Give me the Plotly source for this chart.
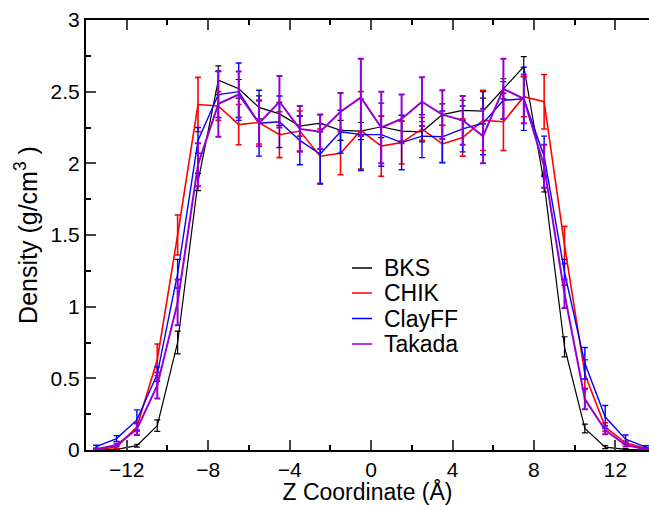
import plotly.graph_objects as go

z = [-13.5, -12.5, -11.5, -10.5, -9.5, -8.5, -7.5, -6.5, -5.5, -4.5, -3.5, -2.5, -1.5, -0.5,
     0.5, 1.5, 2.5, 3.5, 4.5, 5.5, 6.5, 7.5, 8.5, 9.5, 10.5, 11.5, 12.5, 13.5]

bks = [0.0, 0.005, 0.03, 0.17, 0.75, 1.87, 2.58, 2.52, 2.39, 2.345, 2.26, 2.28, 2.23, 2.225,
       2.255, 2.225, 2.22, 2.34, 2.37, 2.365, 2.52, 2.675, 1.86, 0.72, 0.15, 0.02, 0.005, 0.0]
bks_err = [0.0, 0.005, 0.01, 0.04, 0.08, 0.06, 0.1, 0.065, 0.08, 0.08, 0.07, 0.06, 0.07, 0.06,
           0.075, 0.07, 0.07, 0.075, 0.07, 0.09, 0.07, 0.07, 0.06, 0.07, 0.03, 0.01, 0.005, 0.0]

chik = [0.003, 0.02, 0.16, 0.63, 1.50, 2.41, 2.40, 2.27, 2.285, 2.20, 2.225, 2.05, 2.07, 2.23,
        2.12, 2.145, 2.24, 2.135, 2.18, 2.30, 2.29, 2.465, 2.43, 1.43, 0.53, 0.16, 0.05, 0.01]
chik_err = [0.005, 0.01, 0.03, 0.11, 0.14, 0.19, 0.1, 0.14, 0.15, 0.16, 0.14, 0.19, 0.15, 0.27,
            0.21, 0.15, 0.08, 0.13, 0.13, 0.21, 0.2, 0.14, 0.19, 0.13, 0.1, 0.03, 0.01, 0.005]

clayff = [0.023, 0.08, 0.21, 0.53, 1.23, 2.16, 2.48, 2.50, 2.28, 2.29, 2.16, 2.065, 2.22, 2.20,
          2.20, 2.145, 2.19, 2.185, 2.24, 2.28, 2.44, 2.45, 2.05, 1.24, 0.605, 0.23, 0.075, 0.02]
clayff_err = [0.01, 0.02, 0.07, 0.05, 0.1, 0.09, 0.16, 0.2, 0.23, 0.18, 0.17, 0.21, 0.15, 0.25,
              0.22, 0.19, 0.15, 0.18, 0.16, 0.22, 0.13, 0.22, 0.14, 0.09, 0.11, 0.08, 0.03, 0.01]

takada = [0.005, 0.035, 0.145, 0.45, 1.03, 1.99, 2.415, 2.48, 2.28, 2.43, 2.24, 2.22, 2.36, 2.46,
          2.25, 2.31, 2.43, 2.34, 2.30, 2.19, 2.52, 2.45, 1.98, 1.09, 0.355, 0.14, 0.035, 0.005]
takada_err = [0.005, 0.01, 0.04, 0.09, 0.16, 0.15, 0.23, 0.16, 0.16, 0.18, 0.16, 0.12, 0.13, 0.27,
              0.25, 0.17, 0.17, 0.17, 0.17, 0.19, 0.21, 0.17, 0.15, 0.1, 0.07, 0.03, 0.01, 0.005]

names = ["BKS", "CHIK", "ClayFF", "Takada"]
colors = ["#000000", "#ff0000", "#0000ff", "#9400d3"]
widths = [1.2, 1.6, 1.4, 2.0]
values = [bks, chik, clayff, takada]
errors = [bks_err, chik_err, clayff_err, takada_err]

xticks = [-12, -8, -4, 0, 4, 8, 12]
yticks = [0, 0.5, 1, 1.5, 2, 2.5, 3]
ytick_text = ["0", "0.5", "1", "1.5", "2", "2.5", "3"]

FONT = "Liberation Sans, Arial, sans-serif"

fig = go.Figure()
for name, vals, errs, color, lw in zip(names, values, errors, colors, widths):
    fig.add_trace(go.Scatter(
        x=z, y=vals, name=name, mode="lines", showlegend=False,
        line=dict(color=color, width=lw),
        error_y=dict(type="data", array=errs, visible=True, color=color,
                     thickness=lw, width=3),
    ))

# legend drawn in paper coordinates (line sample + label per series)
leg_rows_px = [268, 293, 318.5, 344]
shapes = []
annotations = []
for name, color, lw, py in zip(names, colors, widths, leg_rows_px):
    yp = (450 - py) / 430
    shapes.append(dict(type="line", xref="paper", yref="paper",
                       x0=(352 - 86) / 563, x1=(372 - 86) / 563, y0=yp, y1=yp,
                       line=dict(color=color, width=1.5)))
    annotations.append(dict(text=name, xref="paper", yref="paper",
                            x=(382 - 86) / 563, y=yp, xanchor="left", yanchor="middle",
                            showarrow=False, font=dict(size=23, family=FONT, color="black")))

fig.update_layout(
    width=649, height=505,
    margin=dict(l=86, r=0, t=20, b=55),
    paper_bgcolor="white", plot_bgcolor="white",
    font=dict(family=FONT, color="black", size=21),
    showlegend=False,
    shapes=shapes,
    annotations=annotations,
    xaxis=dict(
        range=[-14, 13.65], tickvals=xticks, ticks="inside", ticklen=10,
        tickwidth=1.5, showline=True, linewidth=2, linecolor="black",
        mirror="ticks", showgrid=False, zeroline=False,
        minor=dict(tickvals=[-14, -10, -6, -2, 2, 6, 10], ticks="inside",
                   ticklen=5, tickwidth=1.5, tickcolor="black"),
        title=dict(text="Z Coordinate (Å)", font=dict(size=23), standoff=5),
        tickfont=dict(size=21),
    ),
    yaxis=dict(
        range=[0, 3], tickvals=yticks, ticktext=ytick_text, ticks="inside",
        ticklen=10, tickwidth=1.5, showline=True, linewidth=2, linecolor="black",
        showgrid=False, zeroline=False,
        minor=dict(tickvals=[0.25, 0.75, 1.25, 1.75, 2.25, 2.75], ticks="inside",
                   ticklen=5, tickwidth=1.5, tickcolor="black"),
        title=dict(text="Density (g/cm<sup>3</sup> )", font=dict(size=25), standoff=6),
        tickfont=dict(size=21),
    ),
)

fig.write_html("out.html")
